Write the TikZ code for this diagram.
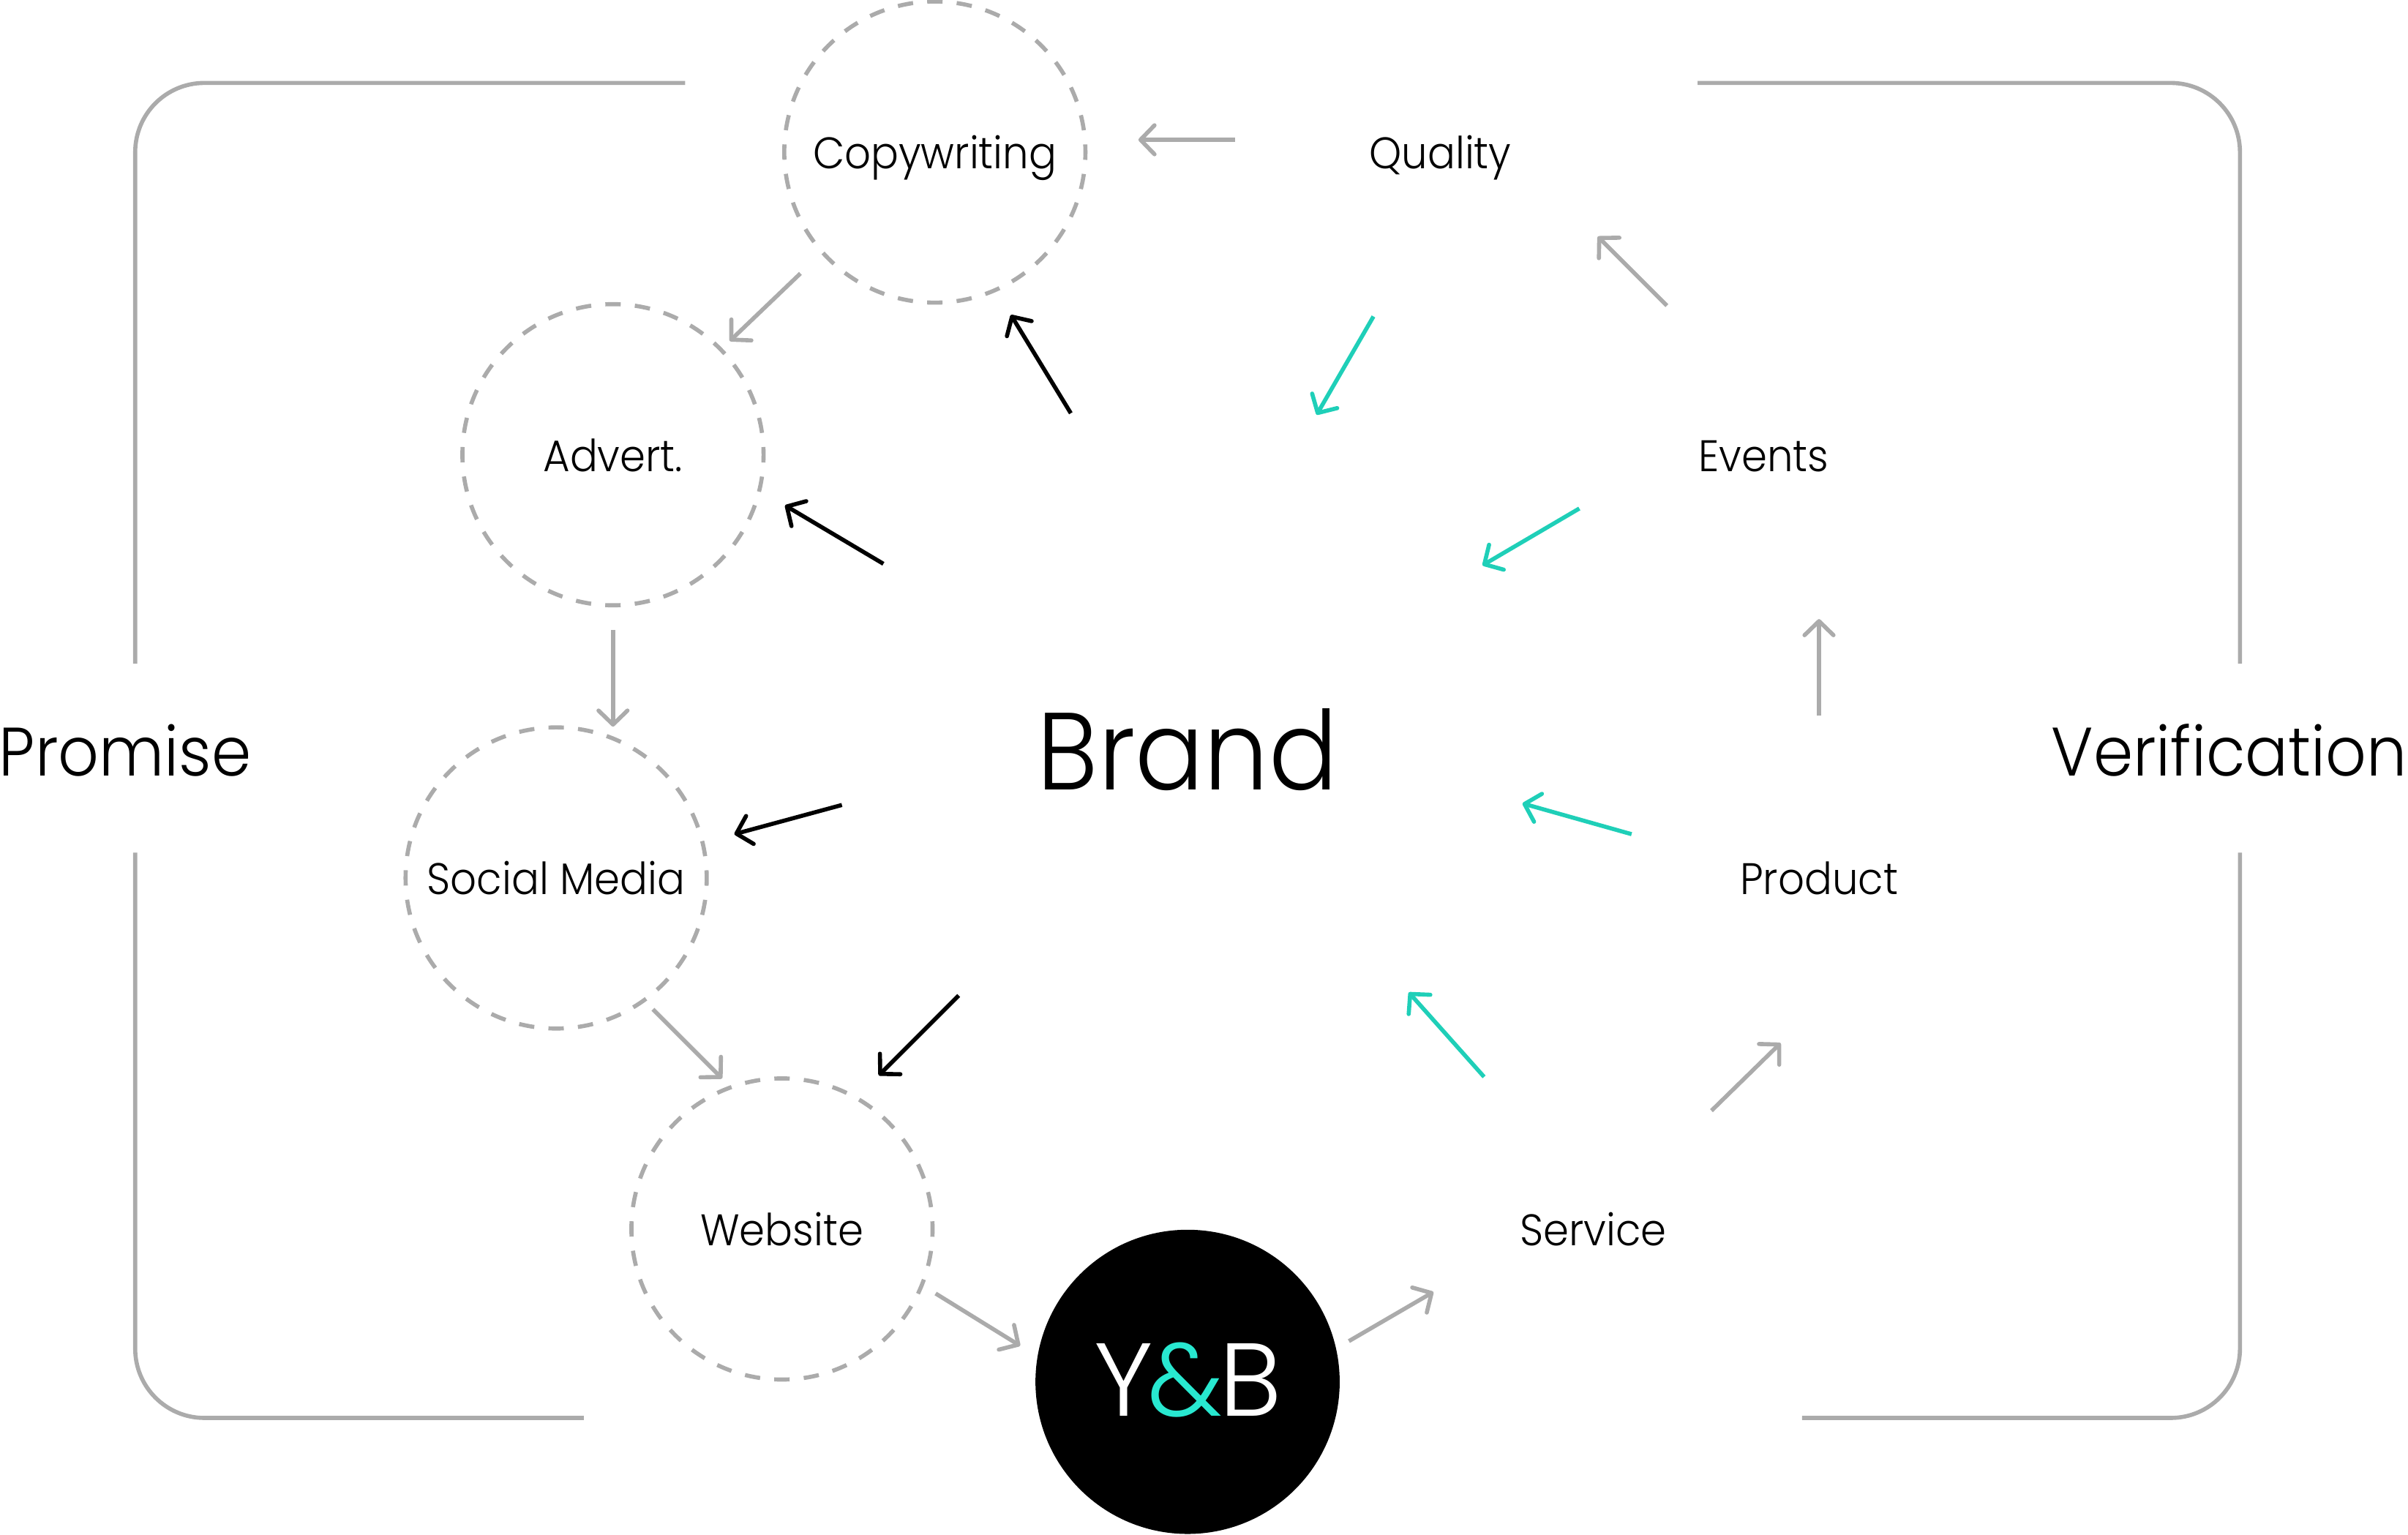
\documentclass[tikz,border=0pt]{standalone}
\usepackage{fontspec}
\setmainfont{Poppins}[UprightFont={* Light},FakeStretch=0.93]
\newfontfamily\logofont{Poppins}[UprightFont={* Light},FakeStretch=1.01]
\usetikzlibrary{arrows.meta}
\definecolor{grayline}{HTML}{ABABAB}
\definecolor{tealline}{HTML}{1FCFB8}
\definecolor{tealmark}{HTML}{28E8D0}
\tikzset{
  frameline/.style={draw=grayline,line width=1.35pt,rounded corners=22.7pt},
  tagbox/.style={circle,draw=grayline,line width=1.35pt,minimum size=98.8pt,inner sep=0pt,outer sep=0pt,
    dash pattern=on 5.04pt off 4.66pt,dash phase=2.52pt,text height=13pt,text depth=2pt,font=\fontsize{14.5pt}{18pt}\selectfont},
  label/.style={inner sep=0pt,text height=13pt,text depth=2pt,font=\fontsize{14.5pt}{18pt}\selectfont},
  sidelabel/.style={inner sep=0pt,text height=18pt,text depth=2pt,font=\fontsize{22.5pt}{28pt}\selectfont},
  link/.style={line width=1.35pt,-{Straight Barb[length=4.6pt,width=9.5pt,line width=1.35pt,round]}},
  greylink/.style={link,draw=grayline},
  blacklink/.style={link,draw=black},
  teallink/.style={link,draw=tealline},
}
\begin{document}
\begin{tikzpicture}[x=0.504pt,y=-0.504pt]
\useasboundingbox (0,0) rectangle (1567.4,999.2);
% frame
\draw[frameline] (446,54) -- (88,54) -- (88,432);
\draw[frameline] (88,555) -- (88,923) -- (380,923);
\draw[frameline] (1105,54) -- (1458,54) -- (1458,432);
\draw[frameline] (1458,555) -- (1458,923) -- (1173,923);
% nodes
\node[tagbox] (copy) at (608.5,99) {Copywriting};
\node[tagbox] (advert) at (399,296) {Advert.};
\node[tagbox] (social) at (362,571.5) {Social Media};
\node[tagbox] (web) at (509,800) {Website};
\node[label] (quality) at (937.5,99) {Quality};
\node[label] (events) at (1148,296) {Events};
\node[label] (product) at (1184,571.5) {Product};
\node[label] (service) at (1037,800) {Service};
\node[inner sep=0pt,text height=28pt,text depth=2.8pt,font=\fontsize{36pt}{44pt}\selectfont] (brand) at (773,489) {Brand};
\node[sidelabel] (promise) at (81.5,489) {Promise};
\node[sidelabel] (verif) at (1451,489) {Verification};
\node[circle,fill=black,minimum size=99.8pt,inner sep=0pt] (yb) at (773,899.5) {};
\node[inner sep=0pt,text height=25pt,text depth=1.8pt,font=\logofont\fontsize{34pt}{38pt}\selectfont,text=white] (mark) at (773.5,899) {Y\kern-2pt\textcolor{tealmark}{\&}\kern-1pt B};
% connector ends
\coordinate (a1) at (804,91);  \coordinate (b1) at (741,91);
\coordinate (a2) at (521,178); \coordinate (b2) at (475,222);
\coordinate (a3) at (697,269); \coordinate (b3) at (658,205);
\coordinate (a4) at (894,206); \coordinate (b4) at (857,270);
\coordinate (a5) at (1085,199);\coordinate (b5) at (1040,154);
\coordinate (a6) at (1028,331);\coordinate (b6) at (965,368);
\coordinate (a7) at (575,367); \coordinate (b7) at (511,329);
\coordinate (a8) at (399,410); \coordinate (b8) at (399,473);
\coordinate (a9) at (1184,466);\coordinate (b9) at (1184,403);
\coordinate (a10) at (548,524);\coordinate (b10) at (478,543);
\coordinate (a11) at (1062,543);\coordinate (b11) at (991,523);
\coordinate (a12) at (624,648);\coordinate (b12) at (572,700);
\coordinate (a13) at (966,701);\coordinate (b13) at (917,646);
\coordinate (a14) at (425,657);\coordinate (b14) at (470,702);
\coordinate (a15) at (1114,723);\coordinate (b15) at (1159,679);
\coordinate (a16) at (609,842);\coordinate (b16) at (664,876);
\coordinate (a17) at (878,873);\coordinate (b17) at (933,841);
% connectors
\draw[greylink] (a1) -- (b1);
\draw[greylink] (a2) -- (b2);
\draw[blacklink] (a3) -- (b3);
\draw[teallink] (a4) -- (b4);
\draw[greylink] (a5) -- (b5);
\draw[teallink] (a6) -- (b6);
\draw[blacklink] (a7) -- (b7);
\draw[greylink] (a8) -- (b8);
\draw[greylink] (a9) -- (b9);
\draw[blacklink] (a10) -- (b10);
\draw[teallink] (a11) -- (b11);
\draw[blacklink] (a12) -- (b12);
\draw[teallink] (a13) -- (b13);
\draw[greylink] (a14) -- (b14);
\draw[greylink] (a15) -- (b15);
\draw[greylink] (a16) -- (b16);
\draw[greylink] (a17) -- (b17);
\end{tikzpicture}
\end{document}
